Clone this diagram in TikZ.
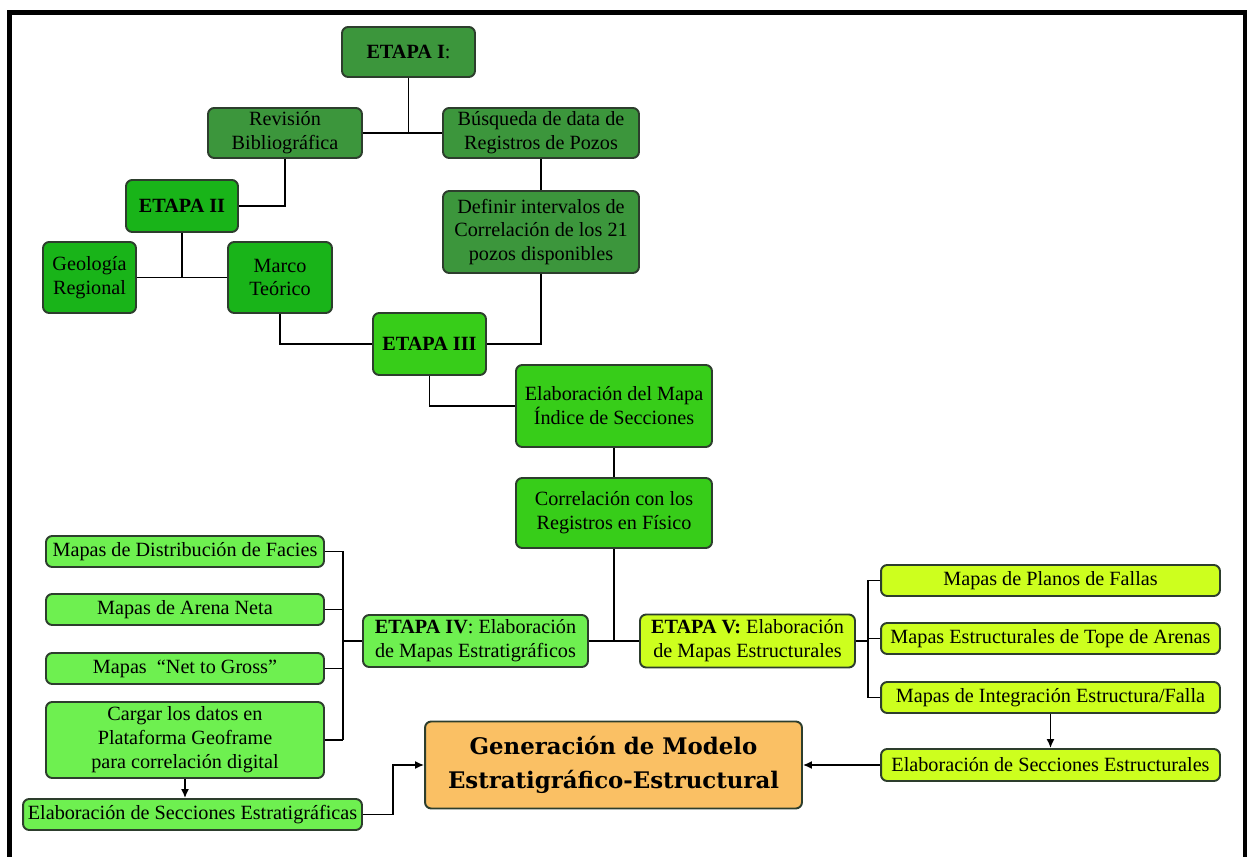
\documentclass[tikz,border=0pt]{standalone}
\usepackage{fontspec}
\setmainfont{Liberation Serif}
\newfontfamily\genfont{DejaVu Serif}
\usetikzlibrary{positioning,arrows.meta,calc}

\definecolor{boxedge}{RGB}{45,62,45}
\definecolor{stageone}{RGB}{60,150,60}
\definecolor{stagetwo}{RGB}{25,180,25}
\definecolor{stagethree}{RGB}{55,205,25}
\definecolor{stagefour}{RGB}{110,240,80}
\definecolor{stagefive}{RGB}{205,255,30}
\definecolor{modelfill}{RGB}{250,192,100}

\begin{document}
\begin{tikzpicture}[
      x=0.02cm, y=-0.02cm,
      font=\fontsize{11.5}{13.6}\selectfont,
      box/.style={draw=boxedge, line width=1.1pt, rounded corners=3.5pt, align=center, inner sep=1pt},
      link/.style={line width=0.9pt},
      arr/.style={-{Latex[length=1.8mm,width=1.6mm]}, line width=0.9pt},
    ]
    \useasboundingbox (0,0) rectangle (1247,857);
    \draw[line width=2.8pt] (9.5,860) -- (9.5,12.5) -- (1245.5,12.5) -- (1245.5,860);

    % etapas I and II
    \node[box, fill=stageone, minimum width=2.66cm, minimum height=1cm] (e1) at (408.5,52) {\textbf{ETAPA I}:};
    \node[box, fill=stageone, minimum width=3.08cm, minimum height=1cm] (rev) at (285,133) {Revisión\\Bibliográfica};
    \node[box, fill=stageone, minimum width=3.92cm, minimum height=1cm] (bus) at (541,133) {Búsqueda de data de\\Registros de Pozos};
    \node[box, fill=stageone, minimum width=3.92cm, minimum height=1.64cm] (def) at (541,232) {Definir intervalos de\\Correlación de los 21\\pozos disponibles};
    \node[box, fill=stagetwo, minimum width=2.24cm, minimum height=1.04cm] (e2) at (182,206) {\textbf{ETAPA II}};
    \node[box, fill=stagetwo, minimum width=1.86cm, minimum height=1.42cm] (geo) at (89.5,277.5) {Geología\\Regional};
    \node[box, fill=stagetwo, minimum width=2.08cm, minimum height=1.42cm] (marco) at (280,277.5) {Marco\\Teórico};

    \draw[link] (e1.south) -- (e1.south |- rev.east);
    \draw[link] (rev.east) -- (bus.west);
    \draw[link] (rev.south) |- (e2.east);
    \draw[link] (e2.south) -- (e2.south |- geo.east);
    \draw[link] (geo.east) -- (marco.west);
    \draw[link] (bus.south) -- (def.north);

    % etapa III
    \node[box, fill=stagethree, minimum width=2.26cm, minimum height=1.24cm] (e3) at (429.5,344) {\textbf{ETAPA III}};
    \node[box, fill=stagethree, minimum width=3.92cm, minimum height=1.64cm] (mapa) at (614,406) {Elaboración del Mapa\\Índice de Secciones};
    \node[box, fill=stagethree, minimum width=3.92cm, minimum height=1.4cm] (corr) at (614,513) {Correlación con los\\Registros en Físico};

    \draw[link] (marco.south) |- (e3.west);
    \draw[link] (def.south) |- (e3.east);
    \draw[link] (e3.south) |- (mapa.west);
    \draw[link] (mapa.south) -- (corr.north);

    % etapas IV and V
    \node[box, fill=stagefour, minimum width=4.5cm, minimum height=1.04cm] (e4) at (475.5,641) {\textbf{ETAPA IV}: Elaboración\\de Mapas Estratigráficos};
    \node[box, fill=stagefive, minimum width=4.3cm, minimum height=1.06cm] (e5) at (747.5,641) {\textbf{ETAPA V:} Elaboración\\de Mapas Estructurales};

    \draw[link] (corr.south) -- (corr.south |- e4.east);
    \draw[link] (e4.east) -- (e5.west);

    \node[box, fill=stagefour, minimum width=5.56cm, minimum height=0.62cm] (fac) at (185,551.5) {Mapas de Distribución de Facies};
    \node[box, fill=stagefour, minimum width=5.56cm, minimum height=0.62cm] (arena) at (185,609.5) {Mapas de Arena Neta};
    \node[box, fill=stagefour, minimum width=5.56cm, minimum height=0.62cm] (ntg) at (185,668.5) {Mapas\ \ “Net to Gross”};
    \node[box, fill=stagefour, minimum width=5.56cm, minimum height=1.52cm] (cargar) at (185,740) {Cargar los datos en\\Plataforma Geoframe\\para correlación digital};
    \node[box, fill=stagefour, minimum width=6.78cm, minimum height=0.62cm] (secestr) at (192.5,814.5) {Elaboración de Secciones Estratigráficas};

    \coordinate (lbar) at (343,641);
    \foreach \n in {fac,arena,ntg,cargar}
      \draw[link] (\n.east) -- (\n.east -| lbar);
    \draw[link] (fac.east -| lbar) -- (cargar.east -| lbar);
    \draw[link] (lbar) -- (e4.west);
    \draw[arr] (cargar.south) -- (cargar.south |- secestr.north);

    \node[box, fill=stagefive, minimum width=6.78cm, minimum height=0.62cm] (fallas) at (1050.5,580.5) {Mapas de Planos de Fallas};
    \node[box, fill=stagefive, minimum width=6.78cm, minimum height=0.62cm] (tope) at (1050.5,638.5) {Mapas Estructurales de Tope de Arenas};
    \node[box, fill=stagefive, minimum width=6.78cm, minimum height=0.62cm] (integ) at (1050.5,697.5) {Mapas de Integración Estructura/Falla};
    \node[box, fill=stagefive, minimum width=6.78cm, minimum height=0.64cm] (secestruc) at (1050.5,765) {Elaboración de Secciones Estructurales};

    \coordinate (rbar) at (868,641);
    \foreach \n in {fallas,tope,integ}
      \draw[link] (\n.west) -- (\n.west -| rbar);
    \draw[link] (fallas.west -| rbar) -- (integ.west -| rbar);
    \draw[link] (e5.east) -- (rbar);
    \draw[arr] (integ.south) -- (secestruc.north);

    % final model
    \node[box, fill=modelfill, minimum width=7.54cm, minimum height=1.74cm,
          font=\genfont\bfseries\fontsize{13}{19}\selectfont] (gen) at (613.5,765) {Generación de Modelo\\Estratigráfico-Estructural};

    \coordinate (bend) at (393,814.5);
    \draw[arr] (secestr.east) -- (bend) |- (gen.west);
    \draw[arr] (secestruc.west) -- (gen.east);
  \end{tikzpicture}
\end{document}
